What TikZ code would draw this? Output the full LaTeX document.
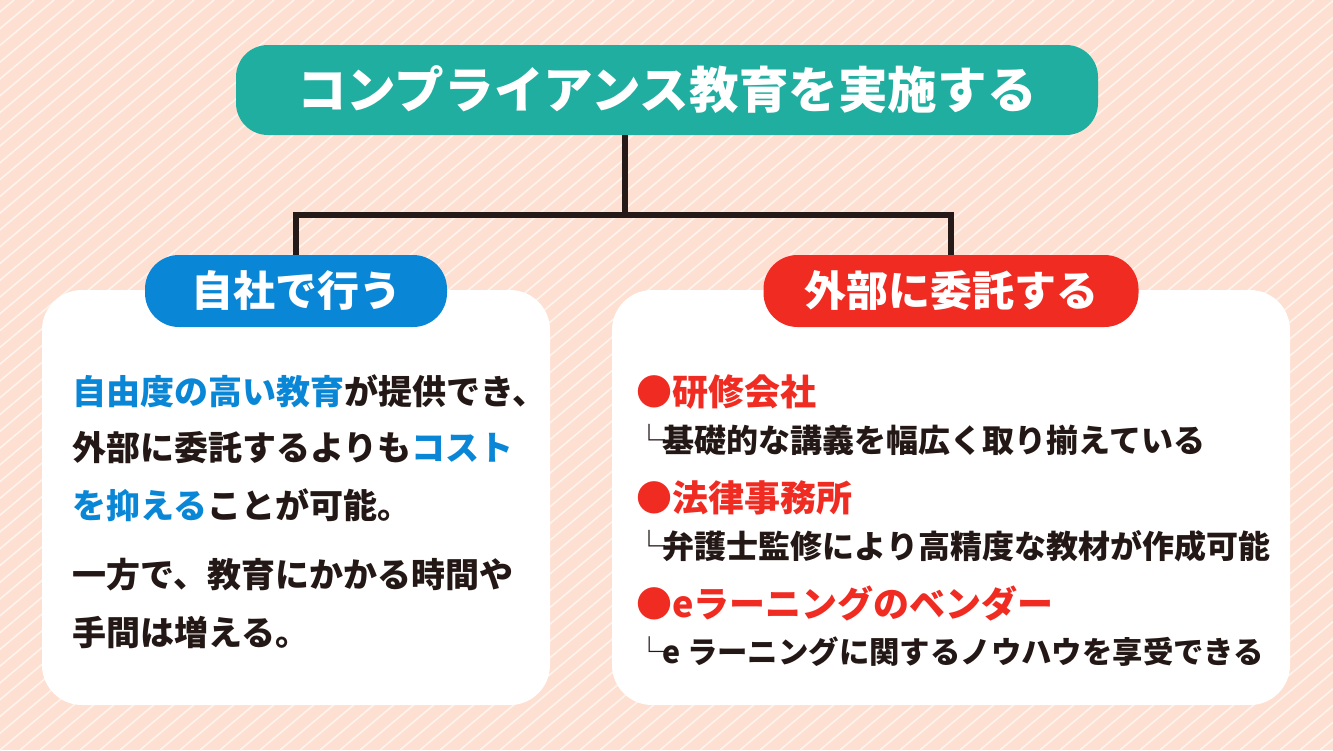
\documentclass[tikz,border=0pt]{standalone}
\usepackage{fontspec}
\newfontfamily\jp{Noto Sans CJK JP}[BoldFont={* Black}]
\definecolor{bgpeach}{RGB}{253,224,210}
\definecolor{tealc}{RGB}{31,174,160}
\definecolor{bluec}{RGB}{10,134,214}
\definecolor{redc}{RGB}{240,43,34}
\definecolor{linebrown}{RGB}{38,26,24}
\definecolor{inkc}{RGB}{35,24,21}
\newcommand\corner{\hspace*{-0.42em}└\hspace{-0.1em}}
\begin{document}
\begin{tikzpicture}[x=0.5pt,y=-0.5pt,
	stripe/.style={draw=white!60!bgpeach, line width=0.8pt},
	card/.style={fill=white, rounded corners=20pt, inner sep=0pt},
	pill/.style={rounded corners=17pt, text=white, inner sep=0pt, minimum height=36pt,
		font=\jp\bfseries\fontsize{21pt}{24pt}\selectfont},
	branch/.style={draw=linebrown, line width=2.6pt},
	body/.style={anchor=west, inner sep=0pt, text=inkc, font=\jp\bfseries\fontsize{17pt}{20pt}\selectfont},
	heading/.style={anchor=west, inner sep=0pt, text=redc, font=\jp\bfseries\fontsize{18pt}{20pt}\selectfont},
	sub/.style={anchor=west, inner sep=0pt, text=inkc, font=\jp\bfseries\fontsize{16pt}{18pt}\selectfont}]

	\useasboundingbox (0,0) rectangle (1333,750);
	\fill[bgpeach] (0,0) rectangle (1333,750);
	\begin{scope}
		\clip (0,0) rectangle (1333,750);
		\foreach \x in {-900,-880,...,1340}
			\draw[stripe] (\x,750) -- ({\x+894},0);
	\end{scope}

	% cards
	\node[card, minimum width=254pt, minimum height=207.5pt] (leftcard) at (296,497.5) {};
	\node[card, minimum width=339pt, minimum height=207.5pt] (rightcard) at (951,497.5) {};

	% tree
	\node[pill, fill=tealc, minimum width=431pt, minimum height=45pt, rounded corners=16pt,
		font=\jp\bfseries\fontsize{24.8pt}{26pt}\selectfont] (title) at (667,90) {コンプライアンス教育を実施する};
	\node[pill, fill=bluec, minimum width=151pt] (inhouse) at (296,291) {自社で行う};
	\node[pill, fill=redc, minimum width=187.5pt] (outsource) at (951,291) {外部に委託する};
	\coordinate (fork) at (625,215);
	\draw[branch] (fork |- title.south) -- (fork) -| (inhouse.north);
	\draw[branch] (fork) -| (outsource.north);

	% left card text
	\node[body] (l1) at (72,391) {{\color{bluec}自由度の高い教育}が提供でき、};
	\node[body] (l2) at (72,448) {外部に委託するよりも{\color{bluec}コスト}};
	\node[body] (l3) at (72,505) {{\color{bluec}を抑える}ことが可能。};
	\node[body] (l4) at (72,575) {一方で、教育にかかる時間や};
	\node[body] (l5) at (72,633) {手間は増える。};

	% right card text
	\node[heading] (r1) at (636,392) {●研修会社};
	\node[sub] (r1s) at (647,440) {\corner 基礎的な講義を幅広く取り揃えている};
	\node[heading] (r2) at (636,498) {●法律事務所};
	\node[sub] (r2s) at (647,546) {\corner 弁護士監修により高精度な教材が作成可能};
	\node[heading] (r3) at (636,604) {●eラーニングのベンダー};
	\node[sub, font=\jp\bfseries\fontsize{15.2pt}{18pt}\selectfont] (r3s) at (647,652) {\corner e ラーニングに関するノウハウを享受できる};
\end{tikzpicture}
\end{document}
